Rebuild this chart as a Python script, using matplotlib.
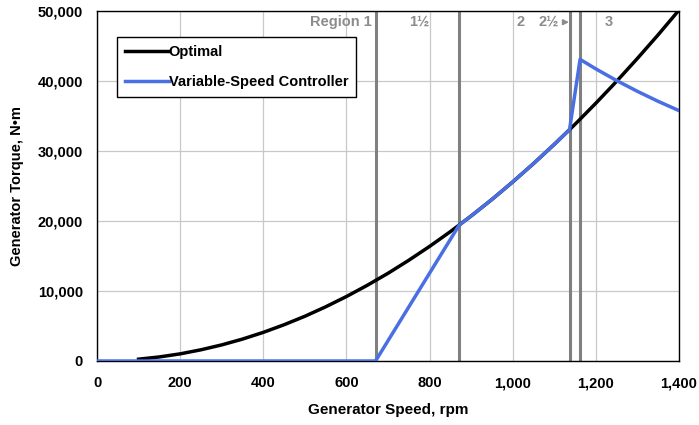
import matplotlib.pyplot as plt
from matplotlib.ticker import FuncFormatter, MultipleLocator

plt.rcParams['font.family'] = ['Liberation Sans', 'DejaVu Sans']
plt.rcParams['font.weight'] = 'bold'

# optimal torque curve, read at 50 rpm steps
opt_speed = [100, 150, 200, 250, 300, 350, 400, 450, 500, 550, 600, 650, 700, 750,
             800, 850, 900, 950, 1000, 1050, 1100, 1150, 1200, 1250, 1300, 1350, 1400]
opt_torque = [260, 580, 1020, 1600, 2300, 3130, 4090, 5180, 6390, 7740, 9210, 10810,
              12530, 14390, 16370, 18480, 20720, 23080, 25580, 28200, 30950, 33820,
              36830, 39960, 43230, 46610, 50130]

# variable-speed controller torque
vs_speed = [0, 670, 871, 900, 950, 1000, 1050, 1100, 1136.7, 1162,
            1200, 1250, 1300, 1350, 1400]
vs_torque = [0, 0, 19400, 20720, 23080, 25580, 28200, 30950, 33050, 43090,
             41730, 40060, 38520, 37090, 35770]

# region boundaries, rpm
region_edges = [670, 871, 1136.7, 1162]
region_labels = [("Region 1", 660, 'right'), ("1½", 775, 'center'),
                 ("2", 1020, 'center'), ("2½", 1086, 'center'), ("3", 1230, 'center')]

fig = plt.figure(figsize=(6.99, 4.25), dpi=100)
ax = fig.add_axes([97/699, 64/425, 582/699, 350/425])

ax.set_xlim(0, 1400)
ax.set_ylim(0, 50000)
ax.xaxis.set_major_locator(MultipleLocator(200))
ax.yaxis.set_major_locator(MultipleLocator(10000))
ax.grid(True, color='#c8c8c8', linewidth=0.9)
ax.set_axisbelow(True)
ax.tick_params(length=0, labelsize=10.5)
ax.tick_params(axis='x', pad=11)
ax.tick_params(axis='y', pad=10)
fmt = FuncFormatter(lambda v, p: f"{int(v):,}")
ax.xaxis.set_major_formatter(fmt)
ax.yaxis.set_major_formatter(fmt)
for lab in ax.get_xticklabels() + ax.get_yticklabels():
    lab.set_fontweight('bold')
for s in ax.spines.values():
    s.set_linewidth(1.0)

for x in region_edges:
    ax.axvline(x, color='#808080', linewidth=2.2, zorder=2)

ax.plot(opt_speed, opt_torque, color='black', linewidth=2.5, label='Optimal', zorder=3)
ax.plot(vs_speed, vs_torque, color='#4a6fe3', linewidth=2.5,
        label='Variable-Speed Controller', zorder=4)

for txt, x, ha in region_labels:
    ax.text(x, 48400, txt, ha=ha, va='center', color='#8c8c8c',
            fontsize=10.5, fontweight='bold')
ax.annotate('', xy=(1142, 48400), xytext=(1118, 48400),
            arrowprops=dict(arrowstyle='-|>', color='#8c8c8c', lw=1.2,
                            mutation_scale=8))

leg = ax.legend(loc='upper left', bbox_to_anchor=(0.034, 0.926), fancybox=False,
                framealpha=1, edgecolor='black', handlelength=3.0,
                handletextpad=0.0, borderaxespad=0, labelspacing=1.1,
                borderpad=0.55, prop={'weight': 'bold', 'size': 10.5})
leg.get_frame().set_linewidth(1.0)

ax.set_xlabel('Generator Speed, rpm', fontsize=11, fontweight='bold', labelpad=9)
ax.set_ylabel('Generator Torque, N•m', fontsize=10.5, fontweight='bold', labelpad=10)

fig.savefig('out.png', dpi=100)
